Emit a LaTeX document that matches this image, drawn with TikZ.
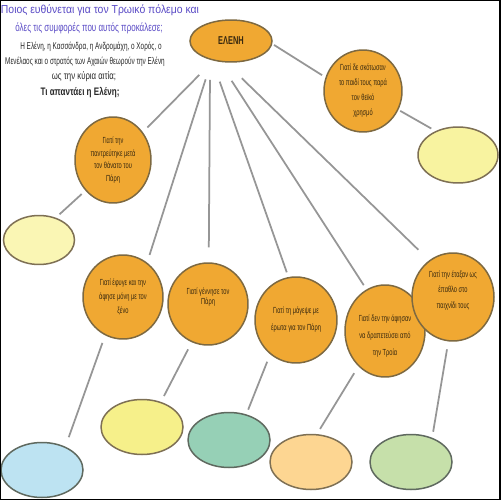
\documentclass[tikz,border=0pt]{standalone}
\usepackage{fontspec}
\setmainfont{Liberation Sans}
\newfontfamily\titlefont[FakeStretch=0.9]{Liberation Sans}
\newfontfamily\titlefontB[FakeStretch=0.69]{Liberation Sans}
\newfontfamily\condfont[FakeStretch=0.65]{Liberation Sans}
\newfontfamily\condfontB[FakeStretch=0.74]{Liberation Sans}
\usetikzlibrary{shapes.geometric}
\definecolor{orangefill}{RGB}{240,168,50}
\definecolor{orangeedge}{RGB}{125,105,65}
\definecolor{txtcol}{RGB}{55,40,15}
\definecolor{conncol}{RGB}{150,150,150}
\definecolor{edgegrey}{RGB}{95,105,95}
\definecolor{titlecol}{RGB}{90,75,198}
\definecolor{bodycol}{RGB}{40,40,40}
\definecolor{fillLB}{RGB}{189,227,242}
\definecolor{fillLY}{RGB}{246,240,138}
\definecolor{fillGR}{RGB}{150,208,182}
\definecolor{fillPE}{RGB}{253,214,146}
\definecolor{fillLG}{RGB}{198,224,170}
\definecolor{fillRY}{RGB}{248,243,160}
\definecolor{fillYL}{RGB}{250,246,180}
\begin{document}
\begin{tikzpicture}[x=0.02cm,y=-0.02cm,
  orangenode/.style={ellipse, draw=orangeedge, fill=orangefill, line width=0.03cm,
    inner sep=-1pt, align=center, text=txtcol},
  otext/.style={font=\condfont\fontsize{5}{#1}\selectfont},
  blanknode/.style={ellipse, draw=edgegrey, line width=0.03cm, inner sep=0pt,
    minimum width=1.64cm, minimum height=1.1cm},
  conn/.style={draw=conncol, line width=0.035cm},
  titletext/.style={inner sep=0pt, text=titlecol, font=\titlefont\fontsize{6.6}{7}\selectfont},
  bodytext/.style={inner sep=0pt, text=bodycol, font=\condfont\fontsize{5.6}{7}\selectfont},
]
\useasboundingbox (0,0) rectangle (500,500);
\fill[white] (0,0) rectangle (500,500);

% texts
\node[titletext] (t1) at (100,10) {Ποιος ευθύνεται για τον Τρωικό πόλεμο και};
\node[titletext, font=\titlefontB\fontsize{6.6}{7}\selectfont] (t2) at (89,28) {όλες τις συμφορές που αυτός προκάλεσε;};
\node[bodytext] (b1) at (91,47) {Η Ελένη, η Κασσάνδρα, η Ανδρομάχη, ο Χορός, ο};
\node[bodytext] (b2) at (85,62) {Μενέλαος και ο στρατός των Αχαιών θεωρούν την Ελένη};
\node[bodytext, font=\condfontB\fontsize{6}{7}\selectfont] (b3) at (84,77) {ως την κύρια αιτία;};
\node[bodytext, font=\condfontB\bfseries\fontsize{6.2}{7}\selectfont] (b4) at (80,93) {Τι απαντάει η Ελένη;};

% orange nodes
\node[orangenode, minimum width=1.64cm, minimum height=0.84cm,
  font=\condfont\bfseries\fontsize{6.5}{8}\selectfont] (elena) at (231,41) {ΕΛΕΝΗ};
\node[orangenode, otext=8.5, minimum width=1.56cm, minimum height=1.64cm] (tr) at (363,91)
  {Γιατί δε σκότωσαν\\το παιδί τους παρά\\τον θεϊκό\\χρησμό};
\node[orangenode, otext=7.2, minimum width=1.52cm, minimum height=1.72cm] (lo) at (113,160)
  {Γιατί την\\παντρεύτηκε μετά\\τον θάνατο του\\Πάρη};
\node[orangenode, otext=8, minimum width=1.6cm, minimum height=1.68cm] (ef) at (123,297)
  {Γιατί έφυγε και την\\άφησε μόνη με τον\\ξένο};
\node[orangenode, otext=6, minimum width=1.6cm, minimum height=1.64cm] (ge) at (208,304)
  {Γιατί γέννησε τον\\Πάρη\\[3pt]\mbox{}};
\node[orangenode, otext=9.6, minimum width=1.64cm, minimum height=1.72cm] (ma) at (296,320)
  {Γιατί τη μάγεψε με\\έρωτα για τον Πάρη};
\node[orangenode, otext=9.6, inner ysep=-5pt, minimum width=1.6cm, minimum height=1.84cm] (af) at (385,331)
  {\mbox{}\\Γιατί δεν την άφησαν\\να δραπετεύσει από\\την Τροία};
\node[orangenode, otext=8.8, inner ysep=-5pt, minimum width=1.64cm, minimum height=1.76cm] (et) at (453,297)
  {Γιατί την έταξαν ως\\έπαθλο στο\\παιχνίδι τους\\\mbox{}};

% blank ellipses
\node[blanknode, fill=fillRY, draw=orangeedge!70!gray, minimum width=1.6cm, minimum height=1.12cm] (ry) at (458,155) {};
\node[blanknode, fill=fillYL, draw=orangeedge!70!gray, minimum width=1.42cm, minimum height=0.98cm] (yl) at (39,240) {};
\node[blanknode, fill=fillLB] (lb) at (42,470) {};
\node[blanknode, fill=fillLY, draw=orangeedge!70!gray] (ly) at (142,427) {};
\node[blanknode, fill=fillGR] (gr) at (229,440) {};
\node[blanknode, fill=fillPE, draw=orangeedge!70!gray] (pe) at (311,462) {};
\node[blanknode, fill=fillLG] (lg) at (411,462) {};

% connectors
\draw[conn, shorten <=0.04cm, shorten >=0.08cm] (elena.356) -- (tr.160);
\draw[conn, shorten <=0.04cm, shorten >=0.1cm] (tr.332) -- (ry.133);
\draw[conn, shorten <=0.4cm, shorten >=0.13cm] (elena.228) -- (lo.43);
\draw[conn, shorten <=0.4cm, shorten >=0.16cm] (elena.225) -- (ef.55);
\draw[conn, shorten <=0.4cm, shorten >=0.3cm] (elena.222) -- (ge.89);
\draw[conn, shorten <=0.45cm, shorten >=0.1cm] (elena.226) -- (ma.100);
\draw[conn, shorten <=0.45cm, shorten >=0.1cm] (elena.241) -- (af.114);
\draw[conn, shorten <=0.45cm, shorten >=0.3cm] (elena.256) -- (et.123);
\draw[conn, shorten <=0.16cm, shorten >=0.2cm] (ef.245) -- (lb.45);
\draw[conn, shorten <=0.16cm, shorten >=0.13cm] (ge.247) -- (ly.53);
\draw[conn, shorten <=0.16cm, shorten >=0.1cm] (ma.233) -- (gr.56);
\draw[conn, shorten <=0.16cm, shorten >=0.12cm] (af.233) -- (pe.78);
\draw[conn, shorten <=0.16cm, shorten >=0.12cm] (et.264) -- (lg.49);
\draw[conn, shorten <=0.1cm, shorten >=0.1cm] (lo.228) -- (yl.53);

\draw[black, line width=0.04cm] (0,0) rectangle (500,500);
\end{tikzpicture}
\end{document}
